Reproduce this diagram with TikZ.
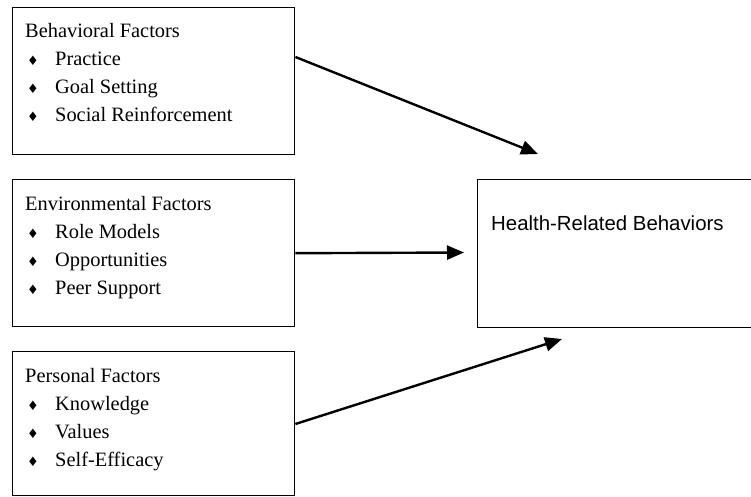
\documentclass[tikz,border=0pt]{standalone}
\usepackage{fontspec}
\setmainfont{Liberation Serif}
\newfontfamily\sansf{Liberation Sans}
\newfontfamily\symf{DejaVu Sans}
\usetikzlibrary{arrows.meta}
\newcommand{\bul}{{\symf\fontsize{13pt}{13pt}\selectfont ♦}}
\tikzset{
  factorbox/.style={draw=black, line width=1.4pt, minimum width=282pt, minimum height=147pt, inner sep=0pt, anchor=north west},
  headtext/.style={inner sep=0pt, anchor=base west, font=\fontsize{20.4pt}{24pt}\selectfont},
  itemtext/.style={inner sep=0pt, anchor=base west, font=\fontsize{20.4pt}{24pt}\selectfont},
  linkarrow/.style={line width=2.4pt, -{Triangle[length=17pt,width=14pt]}}
}
\begin{document}
\begin{tikzpicture}[x=1pt,y=-1pt]
\clip (0,0) rectangle (751,497);
\fill[white] (0,0) rectangle (751,497);
% boxes
\node[factorbox] (b1) at (12,7) {};
\node[factorbox] (b2) at (12,179) {};
\node[factorbox, minimum height=144pt] (b3) at (12,351) {};
\node[factorbox, minimum width=290pt, minimum height=148pt] (b4) at (477,179) {};
% box 1 text
\node[headtext] (h1) at (25,38) {Behavioral Factors};
\node[itemtext] (i11) at (27,66) {\makebox[28pt][l]{\bul}Practice};
\node[itemtext] (i12) at (27,94) {\makebox[28pt][l]{\bul}Goal Setting};
\node[itemtext] (i13) at (27,122) {\makebox[28pt][l]{\bul}Social Reinforcement};
% box 2 text
\node[headtext] (h2) at (25,210) {Environmental Factors};
\node[itemtext] (i21) at (27,238) {\makebox[28pt][l]{\bul}Role Models};
\node[itemtext] (i22) at (27,266) {\makebox[28pt][l]{\bul}Opportunities};
\node[itemtext] (i23) at (27,294) {\makebox[28pt][l]{\bul}Peer Support};
% box 3 text
\node[headtext] (h3) at (25,382) {Personal Factors};
\node[itemtext] (i31) at (27,410) {\makebox[28pt][l]{\bul}Knowledge};
\node[itemtext] (i32) at (27,438) {\makebox[28pt][l]{\bul}Values};
\node[itemtext] (i33) at (27,466) {\makebox[28pt][l]{\bul}Self-Efficacy};
% right box text
\node[headtext, font=\sansf\fontsize{20.4pt}{24pt}\selectfont] (h4) at (491,230) {Health-Related Behaviors};
% arrow ends
\coordinate (s1) at ([yshift=-50pt]b1.north east);
\coordinate (s3) at ([yshift=-73pt]b3.north east);
\coordinate (e1) at (538,154);
\coordinate (e2) at (464,252.5);
\coordinate (e3) at (562,339);
\draw[linkarrow] (s1) -- (e1);
\draw[linkarrow] (b2.east) -- (e2);
\draw[linkarrow] (s3) -- (e3);
\end{tikzpicture}
\end{document}
